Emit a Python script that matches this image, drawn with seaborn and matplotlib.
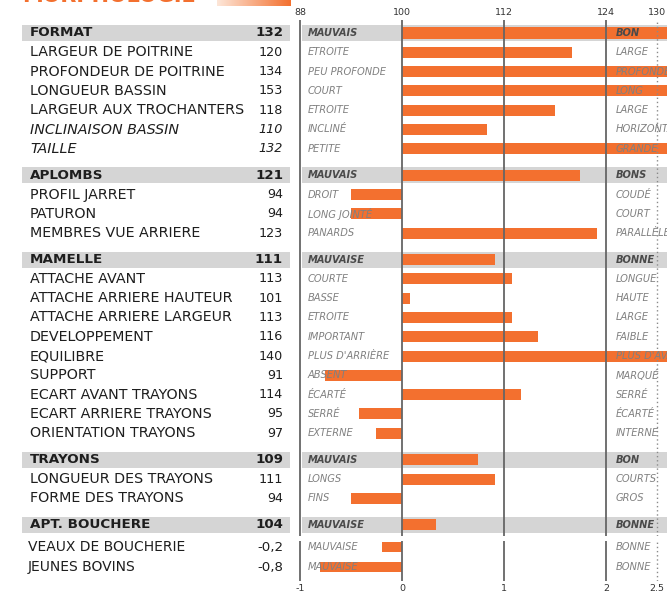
import numpy as np
import pandas as pd
import matplotlib
matplotlib.use("Agg")
import matplotlib.pyplot as plt
import matplotlib.transforms as mtransforms
from matplotlib.colors import LinearSegmentedColormap
import seaborn as sns

sns.set_theme(style="white")
plt.rcParams["font.family"] = ["DejaVu Sans"]

# ---- section summaries ----
section_names = ["FORMAT", "APLOMBS", "MAMELLE", "TRAYONS", "APT. BOUCHERE"]
section_values = [132, 121, 111, 109, 104]
section_low = ["MAUVAIS", "MAUVAIS", "MAUVAISE", "MAUVAIS", "MAUVAISE"]
section_high = ["BON", "BONS", "BONNE", "BON", "BONNE"]

# ---- traits per section ----
format_traits = ["LARGEUR DE POITRINE", "PROFONDEUR DE POITRINE", "LONGUEUR BASSIN",
                 "LARGEUR AUX TROCHANTERS", "INCLINAISON BASSIN", "TAILLE"]
format_values = [120, 134, 153, 118, 110, 132]
format_low = ["ETROITE", "PEU PROFONDE", "COURT", "ETROITE", "INCLINÉ", "PETITE"]
format_high = ["LARGE", "PROFONDE", "LONG", "LARGE", "HORIZONTAL", "GRANDE"]

aplombs_traits = ["PROFIL JARRET", "PATURON", "MEMBRES VUE ARRIERE"]
aplombs_values = [94, 94, 123]
aplombs_low = ["DROIT", "LONG JOINTÉ", "PANARDS"]
aplombs_high = ["COUDÉ", "COURT", "PARALLÈLE"]

mamelle_traits = ["ATTACHE AVANT", "ATTACHE ARRIERE HAUTEUR", "ATTACHE ARRIERE LARGEUR",
                  "DEVELOPPEMENT", "EQUILIBRE", "SUPPORT", "ECART AVANT TRAYONS",
                  "ECART ARRIERE TRAYONS", "ORIENTATION TRAYONS"]
mamelle_values = [113, 101, 113, 116, 140, 91, 114, 95, 97]
mamelle_low = ["COURTE", "BASSE", "ETROITE", "IMPORTANT", "PLUS D'ARRIÈRE", "ABSENT",
               "ÉCARTÉ", "SERRÉ", "EXTERNE"]
mamelle_high = ["LONGUE", "HAUTE", "LARGE", "FAIBLE", "PLUS D'AVANT", "MARQUÉ",
                "SERRÉ", "ÉCARTÉ", "INTERNE"]

trayons_traits = ["LONGUEUR DES TRAYONS", "FORME DES TRAYONS"]
trayons_values = [111, 94]
trayons_low = ["LONGS", "FINS"]
trayons_high = ["COURTS", "GROS"]

italic_traits = ["INCLINAISON BASSIN", "TAILLE"]

# ---- carcass aptitude (deviation scale) ----
boucherie_traits = ["VEAUX DE BOUCHERIE", "JEUNES BOVINS"]
boucherie_values = [-0.2, -0.8]
boucherie_low = ["MAUVAISE", "MAUVAISE"]
boucherie_high = ["BONNE", "BONNE"]

index_ticks = [88, 100, 112, 124, 130]
deviation_ticks = [-1, 0, 1, 2, 2.5]
deviation_ticklabels = ["-1", "0", "1", "2", "2.5"]

ORANGE = "#F3702F"
BAND = "#D5D5D5"
LINE = "#666666"
DARK = "#1E1E1E"
DESC = "#808080"
DESC_HEAD = "#4A4A4A"
NARROW = ["Liberation Sans Narrow", "DejaVu Sans"]
DESC_KW = dict(fontsize=7.9, family=NARROW, fontstretch="condensed", style="italic")

W, H = 667, 594
fig = plt.figure(figsize=(W / 100, H / 100), dpi=100)
fig.patch.set_facecolor("white")

# ---- assemble the index table with row positions ----
sections = [
    (format_traits, format_values, format_low, format_high),
    (aplombs_traits, aplombs_values, aplombs_low, aplombs_high),
    (mamelle_traits, mamelle_values, mamelle_low, mamelle_high),
    (trayons_traits, trayons_values, trayons_low, trayons_high),
    ([], [], [], []),
]
GAP = 0.37
records = []
pos = 0.0
for i, (traits, vals, lows, highs) in enumerate(sections):
    if i > 0:
        pos += 1 + GAP
    records.append(dict(label=section_names[i], value=section_values[i],
                        low=section_low[i], high=section_high[i], pos=pos, header=True))
    for t, v, lo, hi in zip(traits, vals, lows, highs):
        pos += 1
        records.append(dict(label=t, value=v, low=lo, high=hi, pos=pos, header=False))
df = pd.DataFrame(records)
df["ecart"] = df["value"] - 100

# pixel geometry of the upper panel
ROW_PX = 19.3
FIRST_PX = 33
TOP_PX, BOT_PX = 20, 536
ax = fig.add_axes([0, 1 - BOT_PX / H, 1, (BOT_PX - TOP_PX) / H])
ax.set_facecolor("none")

sns.barplot(data=df, x="ecart", y="pos", orient="y", native_scale=True,
            color=ORANGE, width=0.57, errorbar=None, left=100, ax=ax,
            saturation=1, zorder=2, linewidth=0)

ax.set_xlim(88 - 300 / 8.5, 88 + 367 / 8.5)
ax.set_ylim((BOT_PX - FIRST_PX) / ROW_PX, (TOP_PX - FIRST_PX) / ROW_PX)
ax.set_xlabel("")
ax.set_ylabel("")
ax.set_yticks([])
ax.xaxis.tick_top()
ax.set_xticks(index_ticks)
ax.set_xticklabels([str(t) for t in index_ticks])
ax.tick_params(axis="x", length=0, pad=2, labelsize=6.8, labelcolor="#333333")
for s in ax.spines.values():
    s.set_visible(False)

for t in index_ticks[:-1]:
    ax.axvline(t, color=LINE, lw=1.3, zorder=3)
ax.axvline(index_ticks[-1], color="#8a8a8a", lw=1.0, ls=(0, (1, 2)), zorder=3)

trans = mtransforms.blended_transform_factory(ax.transAxes, ax.transData)
xf = lambda px: px / W

for _, r in df.iterrows():
    y = r["pos"]
    if r["header"]:
        ax.axhspan(y - 0.415, y + 0.415, xmin=xf(22), xmax=xf(290), color=BAND, zorder=0, lw=0)
        ax.axhspan(y - 0.415, y + 0.415, xmin=xf(302), xmax=1, color=BAND, zorder=0, lw=0)
        ax.text(xf(30), y, r["label"], transform=trans, ha="left", va="center",
                fontsize=9.7, fontweight="bold", color=DARK)
        ax.text(xf(283), y, f"{r['value']:d}", transform=trans, ha="right", va="center",
                fontsize=9.6, fontweight="bold", color=DARK)
        ax.text(xf(308), y, r["low"], transform=trans, ha="left", va="center",
                fontweight="bold", color=DESC_HEAD, zorder=4, **DESC_KW)
        ax.text(xf(616), y, r["high"], transform=trans, ha="left", va="center",
                fontweight="bold", color=DESC_HEAD, zorder=4, **DESC_KW)
    else:
        st = "italic" if r["label"] in italic_traits else "normal"
        ax.text(xf(30), y, r["label"], transform=trans, ha="left", va="center",
                fontsize=10.3, style=st, color=DARK)
        ax.text(xf(283), y, f"{r['value']:d}", transform=trans, ha="right", va="center",
                fontsize=9.2, style=st, color=DARK)
        ax.text(xf(308), y, r["low"], transform=trans, ha="left", va="center",
                color=DESC, zorder=4, **DESC_KW)
        ax.text(xf(616), y, r["high"], transform=trans, ha="left", va="center",
                color=DESC, zorder=4, **DESC_KW)

# ---- lower panel: carcass aptitude on the deviation scale ----
bdf = pd.DataFrame(dict(label=boucherie_traits, value=boucherie_values,
                        low=boucherie_low, high=boucherie_high,
                        pos=np.arange(len(boucherie_traits), dtype=float)))
B_TOP, B_BOT, B_FIRST, B_ROW = 541, 581, 547, 20.0
axb = fig.add_axes([0, 1 - B_BOT / H, 1, (B_BOT - B_TOP) / H])
axb.set_facecolor("none")
sns.barplot(data=bdf, x="value", y="pos", orient="y", native_scale=True,
            color=ORANGE, width=0.5, errorbar=None, ax=axb,
            saturation=1, zorder=2, linewidth=0)
axb.set_xlim(-1 - 300 / 102, -1 + 367 / 102)
axb.set_ylim((B_BOT - B_FIRST) / B_ROW, (B_TOP - B_FIRST) / B_ROW)
axb.set_xlabel("")
axb.set_ylabel("")
axb.set_yticks([])
axb.set_xticks(deviation_ticks)
axb.set_xticklabels(deviation_ticklabels)
axb.tick_params(axis="x", length=0, pad=2, labelsize=6.8, labelcolor="#333333")
for s in axb.spines.values():
    s.set_visible(False)
for t in deviation_ticks[:-1]:
    axb.axvline(t, color=LINE, lw=1.3, zorder=3)
axb.axvline(deviation_ticks[-1], color="#8a8a8a", lw=1.0, ls=(0, (1, 2)), zorder=3)

transb = mtransforms.blended_transform_factory(axb.transAxes, axb.transData)
for _, r in bdf.iterrows():
    y = r["pos"]
    axb.text(xf(28), y, r["label"], transform=transb, ha="left", va="center",
             fontsize=10.0, color=DARK)
    axb.text(xf(283), y, f"{r['value']:.1f}".replace(".", ","), transform=transb,
             ha="right", va="center", fontsize=9.6, color=DARK)
    axb.text(xf(308), y, r["low"], transform=transb, ha="left", va="center",
             color=DESC, zorder=4, **DESC_KW)
    axb.text(xf(616), y, r["high"], transform=transb, ha="left", va="center",
             color=DESC, zorder=4, **DESC_KW)

# ---- page heading (runs off the top edge) ----
fig.text(xf(22), 1 - 1.5 / H, "MORPHOLOGIE", fontsize=15, fontweight="heavy",
         color=ORANGE, ha="left", va="baseline")
tab = fig.add_axes([xf(217), 1 - 6 / H, xf(73), 6 / H])
tab.imshow(np.linspace(0, 1, 100)[None, :], aspect="auto",
           cmap=LinearSegmentedColormap.from_list("tab", ["#FDE6D8", ORANGE]))
tab.axis("off")

fig.savefig("out.png", dpi=100, facecolor="white")
